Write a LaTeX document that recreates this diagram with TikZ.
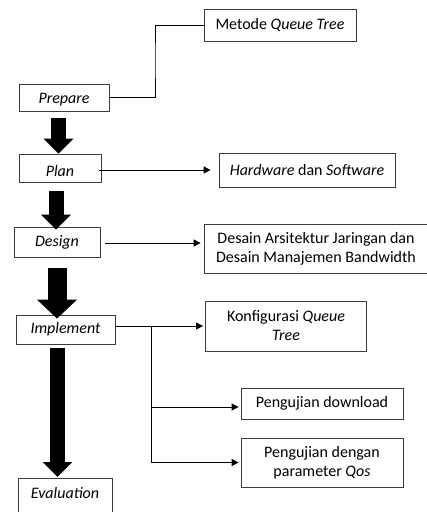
\documentclass[tikz,border=0pt]{standalone}
\usepackage{fontspec}
\setmainfont{Carlito}
\usetikzlibrary{arrows.meta,calc}
\definecolor{boxline}{RGB}{60,60,60}

\begin{document}
\begin{tikzpicture}[
    x=1pt, y=-1pt,
    box/.style={
        draw=boxline,
        line width=0.8pt,
        inner sep=1pt,
        align=center,
        font=\fontsize{16}{19}\selectfont
    },
    link/.style={
        line width=0.8pt
    },
    arr/.style={
        -{Triangle[length=7pt,width=7pt]},
        line width=0.9pt
    },
    blockarrow/.style={
        -{Triangle[length=15pt,width=29pt]},
        line width=15pt
    }
]
\useasboundingbox (0,0) rectangle (427,512);

% stages on the left
\node[box, minimum width=90pt, minimum height=27pt, text height=15pt, text depth=3pt] (prepare) at (64,97.5) {\textit{Prepare}};
\node[box, minimum width=82pt, minimum height=28pt, text height=19pt, text depth=3pt] (plan) at (60,168) {\textit{Plan}};
\node[box, minimum width=86pt, minimum height=30pt] (design) at (57,242) {\textit{Design}};
\node[box, minimum width=99pt, minimum height=29pt] (implement) at (65.5,329.5) {\textit{Implement}};
\node[box, minimum width=94pt, text height=19pt, text depth=24pt, anchor=north] (evaluation) at (65,478) {\textit{Evaluation}};

% details on the right
\node[box, minimum width=152pt, minimum height=32pt] (metode) at (280,25) {Metode \textit{Queue Tree}};
\node[box, minimum width=176pt, minimum height=34pt] (hardware) at (307,170) {\textit{Hardware} dan \textit{Software}};
\node[box, minimum width=224pt, minimum height=49pt] (desain) at (316,248.5) {Desain Arsitektur Jaringan dan\\Desain Manajemen Bandwidth};
\node[box, minimum width=161pt, minimum height=50pt] (konfigurasi) at (286,326) {Konfigurasi \textit{Queue}\\\textit{Tree}};
\node[box, minimum width=162pt, minimum height=31pt] (download) at (322,403.5) {Pengujian download};
\node[box, minimum width=162pt, minimum height=49pt] (qos) at (322,462.5) {Pengujian dengan\\parameter \textit{Qos}};

\coordinate (bendA) at (155,60);
\coordinate (split) at (151,326);

% connectors
\draw[link] (prepare.east) -| (bendA) |- (metode.west);
\draw[arr, shorten >=8pt] ([xshift=-2pt,yshift=-2pt]plan.east) -- ([yshift=-2pt]plan.east -| hardware.west);
\draw[arr, shorten <=5pt, shorten >=3pt] ([yshift=-1pt]design.east) -- ([yshift=-1pt]design.east -| desain.west);
\draw[arr, shorten >=2pt] ([yshift=3.5pt]implement.east) -- ([yshift=3.5pt]implement.east -| konfigurasi.west);
\draw[link] (split) -- (split |- qos.west);
\draw[arr, shorten >=2pt] ([yshift=-3.5pt]split |- download.west) -- ([yshift=-3.5pt]download.west);
\draw[arr, shorten >=2pt] (split |- qos.west) -- (qos.west);

% big arrows between stages
\draw[blockarrow, shorten >=7pt] ([xshift=-5.5pt,yshift=-7pt]prepare.south) -- ([xshift=-5.5pt,yshift=-7pt]prepare.south |- plan.north);
\draw[blockarrow, shorten >=6pt] ([xshift=-4pt,yshift=-9pt]plan.south) -- ([xshift=-4pt,yshift=-9pt]plan.south |- design.north);
\draw[blockarrow, line width=19pt, -{Triangle[length=19pt,width=39pt]}, shorten >=7pt] ([yshift=-11pt]design.south) -- ([yshift=-11pt]design.south |- implement.north);
\draw[blockarrow, shorten >=5pt] ([xshift=-8pt,yshift=-4pt]implement.south) -- ([xshift=-8pt,yshift=-4pt]implement.south |- evaluation.north);

\end{tikzpicture}
\end{document}
